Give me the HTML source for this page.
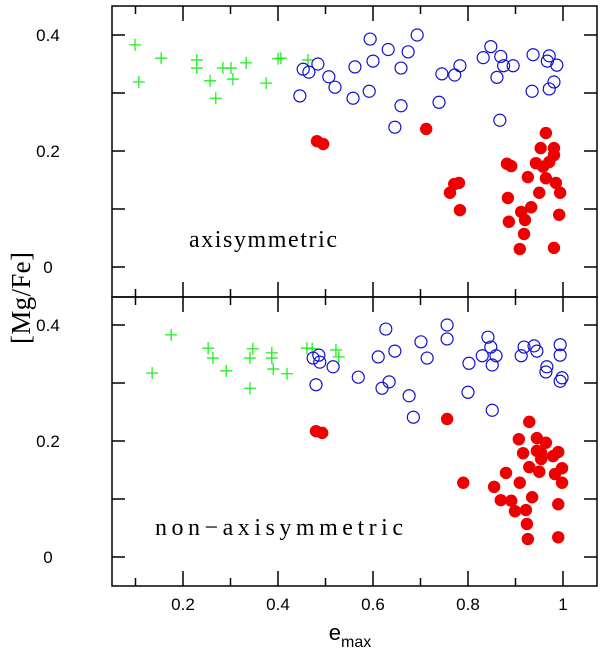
<!DOCTYPE html>
<html><head><meta charset="utf-8"><style>
html,body{margin:0;padding:0;background:#fff;width:600px;height:657px;overflow:hidden}
svg text{font-family:"Liberation Sans",sans-serif}
</style></head><body>
<svg id="chart" width="600" height="657" viewBox="0 0 600 657" xmlns="http://www.w3.org/2000/svg">
<text transform="translate(30,298) rotate(-90)" text-anchor="middle" style="font-family:'Liberation Serif',serif" font-size="27" textLength="92" lengthAdjust="spacing">[Mg/Fe]</text>
<text x="350" y="640" text-anchor="middle" style="font-family:'Liberation Sans',sans-serif" font-size="22">e<tspan font-size="16" dy="7">max</tspan></text>
</svg>
<script>
// Top panel (axisymmetric)
const topCrossE=[0.099,0.107,0.154,0.229,0.229,0.257,0.269,0.284,0.301,0.305,0.333,0.375,0.400,0.406,0.463];
const topCrossV=[0.383,0.319,0.360,0.357,0.343,0.321,0.291,0.343,0.343,0.324,0.352,0.317,0.359,0.360,0.357];
const topOpenE=[0.446,0.453,0.465,0.484,0.507,0.520,0.594,0.562,0.600,0.558,0.592,0.632,0.659,0.659,0.646,0.674,0.693,0.739,0.745,0.772,0.783,0.832,0.848,0.869,0.861,0.875,0.895,0.867,0.937,0.935,0.971,0.967,0.987,0.981,0.971];
const topOpenV=[0.295,0.341,0.336,0.350,0.328,0.310,0.393,0.345,0.355,0.291,0.303,0.375,0.343,0.278,0.241,0.371,0.400,0.284,0.333,0.331,0.347,0.361,0.380,0.363,0.327,0.347,0.347,0.253,0.366,0.303,0.364,0.355,0.348,0.319,0.307];
const topFillE=[0.482,0.495,0.712,0.964,0.953,0.981,0.981,0.943,0.971,0.958,0.882,0.891,0.926,0.964,0.985,0.994,0.950,0.781,0.771,0.762,0.783,0.884,0.933,0.912,0.920,0.886,0.992,0.918,0.909,0.981];
const topFillV=[0.217,0.212,0.238,0.231,0.205,0.205,0.193,0.179,0.181,0.173,0.178,0.174,0.155,0.153,0.145,0.128,0.128,0.145,0.143,0.128,0.098,0.119,0.103,0.095,0.081,0.078,0.090,0.057,0.031,0.033];
// Bottom panel (non-axisymmetric)
const botCrossE=[0.175,0.135,0.253,0.263,0.291,0.341,0.347,0.341,0.387,0.387,0.390,0.419,0.461,0.472,0.522,0.528];
const botCrossV=[0.383,0.317,0.360,0.343,0.321,0.343,0.359,0.291,0.352,0.343,0.324,0.316,0.360,0.359,0.357,0.345];
const botOpenE=[0.474,0.486,0.488,0.516,0.480,0.627,0.611,0.646,0.569,0.619,0.634,0.676,0.685,0.701,0.714,0.756,0.756,0.802,0.800,0.842,0.848,0.830,0.859,0.851,0.851,0.918,0.912,0.939,0.945,0.966,0.964,0.994,0.994,0.998,0.994];
const botOpenV=[0.343,0.348,0.336,0.328,0.297,0.393,0.345,0.355,0.310,0.291,0.302,0.278,0.241,0.371,0.343,0.400,0.376,0.334,0.284,0.379,0.362,0.347,0.347,0.331,0.253,0.362,0.347,0.364,0.355,0.328,0.319,0.366,0.348,0.309,0.303];
const botFillE=[0.480,0.493,0.756,0.790,0.929,0.907,0.945,0.964,0.916,0.945,0.954,0.954,0.979,0.990,0.929,0.950,0.998,0.983,0.998,0.880,0.909,0.855,0.935,0.869,0.891,0.899,0.922,0.990,0.924,0.926,0.990];
const botFillV=[0.217,0.214,0.238,0.128,0.233,0.203,0.205,0.197,0.179,0.183,0.179,0.169,0.174,0.181,0.155,0.147,0.153,0.143,0.128,0.145,0.128,0.121,0.103,0.098,0.097,0.079,0.081,0.091,0.057,0.031,0.034];
const xTickLabels=[0.2,0.4,0.6,0.8,1];
const yTickLabels=[0,0.2,0.4];
const panelLabels=["axisymmetric","non\u2212axisymmetric"];

const NS="http://www.w3.org/2000/svg";
const svg=document.getElementById('chart');
const L=112,R=597;
const panels=[{top:6,bot:297,zeroY:267},{top:297,bot:586,zeroY:557}];
const xs=e=>88+475*e;
function mk(tag,attrs){const el=document.createElementNS(NS,tag);for(const k in attrs)el.setAttribute(k,attrs[k]);svg.appendChild(el);return el;}

panels.forEach((p,pi)=>{
  const ys=v=>p.zeroY-580*v;
  for(let i=1;i<=10;i++){
    const x=xs(i/10),len=(i%2===0)?15:8;
    let t=mk('line',{x1:x,x2:x,y1:p.bot,y2:p.bot-len,stroke:'#000','stroke-width':1.5});
    
    
    t=mk('line',{x1:x,x2:x,y1:p.top,y2:p.top+len,stroke:'#000','stroke-width':1.5});
    
    
  }
  for(let i=0;i<=4;i++){
    const y=ys(i/10);
    let t=mk('line',{x1:L,x2:L+13,y1:y,y2:y,stroke:'#000','stroke-width':1.5});
    
    
    t=mk('line',{x1:R,x2:R-13,y1:y,y2:y,stroke:'#000','stroke-width':1.5});
    
    
  }
  yTickLabels.forEach(v=>{
    const t=mk('text',{x:48,y:ys(v)+6,'text-anchor':'middle','font-size':17});
    t.textContent=v===0?'0':String(v);
    
    
  });
  const frame=mk('rect',{x:L,y:p.top,width:R-L,height:p.bot-p.top,fill:'none',stroke:'#000','stroke-width':1.5});
  
  
  const lab=mk('text',{x:pi===0?189:155,y:pi===0?247:535,'font-size':24,style:"font-family:'Liberation Serif',serif",textLength:pi===0?148:248,lengthAdjust:'spacing'});
  lab.textContent=panelLabels[pi];
  
  

  const cE=pi?botCrossE:topCrossE,cV=pi?botCrossV:topCrossV;
  cE.forEach((e,i)=>{
    const x=xs(e),y=ys(cV[i]);
    const c=mk('path',{d:`M${x-6} ${y}H${x+6}M${x} ${y-6}V${y+6}`,stroke:'#22ee22','stroke-width':1.3,fill:'none'});
    
    
  });
  const oE=pi?botOpenE:topOpenE,oV=pi?botOpenV:topOpenV;
  oE.forEach((e,i)=>{
    const c=mk('circle',{cx:xs(e),cy:ys(oV[i]),r:6,fill:'none',stroke:'#1010d0','stroke-width':1.2});
    
    
  });
  const fE=pi?botFillE:topFillE,fV=pi?botFillV:topFillV;
  fE.forEach((e,i)=>{
    const c=mk('circle',{cx:xs(e),cy:ys(fV[i]),r:6.2,fill:'#ee0000'});
    
    
  });
});
xTickLabels.forEach(v=>{
  const t=mk('text',{x:xs(v),y:610,'text-anchor':'middle','font-size':17});
  t.textContent=String(v);
  
  
});
</script>
</body></html>
